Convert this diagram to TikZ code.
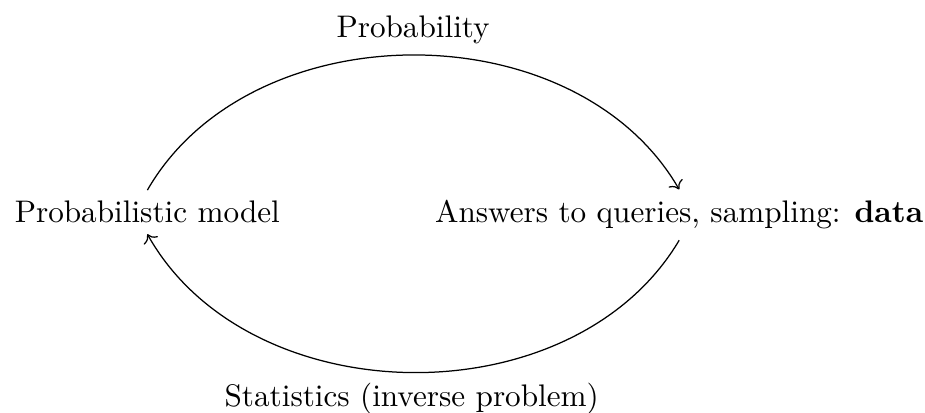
\documentclass[tikz,border=0pt]{standalone}
\usepackage{amsmath}
\usepackage{tikz}
\usetikzlibrary{arrows.meta, positioning}

\begin{document}
\begin{tikzpicture}[loop arc/.style={bend left=60}]
        \useasboundingbox (-1.66,-2.26) rectangle (8.76,2.39);
        \node (model) at (0,0) {Probabilistic model};
        \node (data) [base right=1.5cm of model] {Answers to queries, sampling: \textbf{data}};
        \draw[->] (model.north) to[loop arc] node[above] {Probability} (data.north);
        \draw[->] (data.south) to[loop arc] node[below] {Statistics (inverse problem)} (model.south);
\end{tikzpicture}
\end{document}
